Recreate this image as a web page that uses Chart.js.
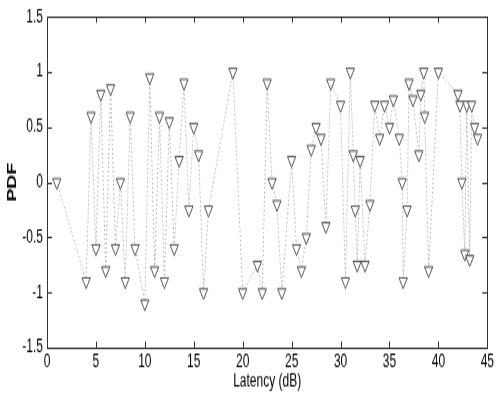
<!DOCTYPE html>
<html>
<head>
<meta charset="utf-8">
<script src="https://cdn.jsdelivr.net/npm/chart.js@4.4.1/dist/chart.umd.min.js"></script>
<style>
  html, body { margin: 0; padding: 0; background: #fff; }
  #wrap { width: 496px; height: 403px; }
</style>
</head>
<body>
<!-- the reference figure is stretched vertically: draw 269px tall and let css scale it to 403px -->
<div id="wrap"><canvas id="pdf-chart" width="496" height="269" style="width:496px;height:403px;display:block"></canvas></div>
<script>
const latency = [
  1.0, 4.0, 4.5, 5.0, 5.5, 6.0, 6.5, 7.0, 7.5, 8.0, 8.5, 9.0,
  10.0, 10.5, 11.0, 11.5, 12.0, 12.5, 13.0, 13.5, 14.0, 14.5, 15.0, 15.5,
  16.0, 16.5, 19.0, 20.0, 21.5, 22.0, 22.5, 23.0, 23.5, 24.0, 25.0, 25.5,
  26.0, 26.5, 27.0, 27.5, 28.0, 28.5, 29.0, 30.0, 30.5, 31.0, 31.3, 31.5,
  31.7, 32.0, 32.5, 33.0, 33.5, 34.0, 34.5, 35.0, 35.4, 36.0, 36.3, 36.4,
  36.8, 37.0, 37.4, 38.0, 38.2, 38.5, 38.6, 39.0, 40.0, 42.0, 42.2, 42.4,
  42.7, 42.9, 43.2, 43.4, 43.7, 44.0
];
const pdfValues = [
  0, -0.9, 0.6, -0.6, 0.8, -0.8, 0.85, -0.6, 0, -0.9, 0.6, -0.6,
  -1.1, 0.95, -0.8, 0.6, -0.9, 0.55, -0.6, 0.2, 0.9, -0.25, 0.5, 0.25,
  -1.0, -0.25, 1.0, -1.0, -0.75, -1.0, 0.9, 0, -0.2, -1.0, 0.2, -0.6,
  -0.8, -0.5, 0.3, 0.5, 0.4, -0.4, 0.9, 0.7, -0.9, 1.0, 0.25, -0.25,
  -0.75, 0.2, -0.75, -0.2, 0.7, 0.4, 0.7, 0.5, 0.75, 0.4, 0, -0.9,
  -0.25, 0.9, 0.75, 0.25, 0.8, 1.0, 0.6, -0.8, 1.0, 0.8, 0.7, 0,
  -0.65, 0.7, -0.7, 0.7, 0.5, 0.4
];
const xTicks = [0, 5, 10, 15, 20, 25, 30, 35, 40, 45];
const yTicks = [-1.5, -1, -0.5, 0, 0.5, 1, 1.5];

const FONT = "'Liberation Sans', Arial, Helvetica, sans-serif";

// matlab style box with inward ticks on all four sides
const boxPlugin = {
  id: 'matlabBox',
  afterDraw(chart) {
    const { ctx, chartArea: a, scales } = chart;
    ctx.save();
    ctx.strokeStyle = '#333';
    ctx.lineWidth = 1;
    ctx.beginPath();
    scales.x.ticks.forEach((t) => {
      const px = Math.round(scales.x.getPixelForValue(t.value)) + 0.5;
      ctx.moveTo(px, a.bottom); ctx.lineTo(px, a.bottom - 4);
      ctx.moveTo(px, a.top); ctx.lineTo(px, a.top + 4);
    });
    scales.y.ticks.forEach((t) => {
      const py = Math.round(scales.y.getPixelForValue(t.value)) + 0.5;
      ctx.moveTo(a.left, py); ctx.lineTo(a.left + 5, py);
      ctx.moveTo(a.right, py); ctx.lineTo(a.right - 5, py);
    });
    ctx.stroke();
    ctx.strokeRect(Math.round(a.left) + 0.5, Math.round(a.top) + 0.5,
      Math.round(a.right - a.left), Math.round(a.bottom - a.top));
    ctx.restore();
  },
};

new Chart(document.getElementById('pdf-chart'), {
  type: 'scatter',
  data: {
    datasets: [{
      data: latency.map((x, i) => ({ x, y: pdfValues[i] })),
      showLine: true,
      borderColor: '#a0a0a0',
      borderWidth: 1,
      borderDash: [1, 2],
      pointStyle: 'triangle',
      rotation: 180,
      pointRadius: 4.8,
      pointBorderColor: '#555',
      pointBackgroundColor: '#fff',
      pointBorderWidth: 1,
    }],
  },
  options: {
    responsive: false,
    animation: false,
    devicePixelRatio: 1,
    layout: { padding: { left: 0, right: 7, top: 9, bottom: 0 } },
    plugins: { legend: { display: false }, tooltip: { enabled: false } },
    scales: {
      x: {
        type: 'linear',
        min: 0,
        max: 45,
        afterBuildTicks: (s) => { s.ticks = xTicks.map((v) => ({ value: v })); },
        ticks: { color: '#000', font: { family: FONT, size: 12 }, padding: 2, maxRotation: 0 },
        grid: { display: false, drawTicks: false },
        border: { display: false },
        title: { display: true, text: 'Latency (dB)', color: '#000', font: { family: FONT, size: 12 }, padding: { top: 0, bottom: 7 } },
        afterFit: (s) => { s.height = 37; },
      },
      y: {
        type: 'linear',
        min: -1.5,
        max: 1.5,
        afterBuildTicks: (s) => { s.ticks = yTicks.map((v) => ({ value: v })); },
        ticks: { color: '#000', font: { family: FONT, size: 12 }, padding: 4, callback: (v) => String(v) },
        grid: { display: false, drawTicks: false },
        border: { display: false },
        title: { display: true, text: 'PDF', color: '#000', font: { family: FONT, size: 13, weight: 'bold' }, padding: { top: 5, bottom: 0 } },
        afterFit: (s) => { s.width = 47; },
      },
    },
  },
  plugins: [boxPlugin],
});
</script>
</body>
</html>
